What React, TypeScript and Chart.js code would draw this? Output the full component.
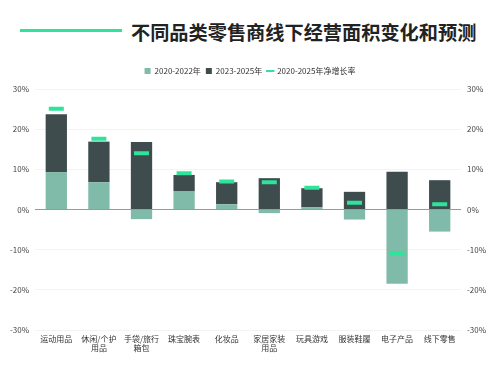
import React, { useEffect, useRef } from "react";
import { Chart, registerables } from "chart.js";

Chart.register(...registerables);

const categories: (string | string[])[] = [
  "运动用品",
  ["休闲/个护", "用品"],
  ["手袋/旅行", "箱包"],
  "珠宝腕表",
  "化妆品",
  ["家居家装", "用品"],
  "玩具游戏",
  "服装鞋履",
  "电子产品",
  "线下零售",
];
const series2020_2022 = [9.3, 6.8, -2.4, 4.6, 1.3, -0.9, 0.6, -2.5, -18.5, -5.5];
const series2023_2025 = [14.4, 10.1, 16.8, 4.0, 5.5, 7.8, 4.7, 4.4, 9.4, 7.3];
const netGrowth = [25.1, 17.6, 14.0, 9.0, 7.0, 6.8, 5.4, 1.7, -10.9, 1.3];
const seriesNames = ["2020-2022年", "2023-2025年", "2020-2025年净增长率"];
const yTicks = [-30, -20, -10, 0, 10, 20, 30];

const FONT = "'Noto Sans CJK SC', 'Noto Sans', sans-serif";
const LIGHT = "#80BAA8";
const DARK = "#3E4C4E";
const GREEN = "#2EE39B";

const legendMargin = {
  id: "legendMargin",
  beforeInit(chart: any) {
    const legend = chart.legend;
    if (!legend) return;
    const orig = legend.fit;
    legend.fit = function () {
      orig.call(this);
      this.height += 4;
    };
  },
};

export default function App() {
  const ref = useRef<HTMLCanvasElement>(null);
  useEffect(() => {
    if (!ref.current) return;
    const tickCb = (v: any) => `${v}%`;
    const chart = new Chart(ref.current, {
      type: "bar",
      plugins: [legendMargin],
      data: {
        labels: categories as any,
        datasets: [
          {
            type: "bar",
            label: seriesNames[0],
            data: series2020_2022,
            backgroundColor: LIGHT,
            stack: "a",
            order: 1,
            barPercentage: 0.5,
            categoryPercentage: 1,
          },
          {
            type: "bar",
            label: seriesNames[1],
            data: series2023_2025,
            backgroundColor: DARK,
            stack: "a",
            order: 1,
            barPercentage: 0.5,
            categoryPercentage: 1,
          },
          {
            type: "line",
            label: seriesNames[2],
            data: netGrowth,
            showLine: false,
            stack: "net",
            order: 0,
            pointStyle: "line",
            pointRadius: 7.5,
            pointHoverRadius: 7.5,
            pointBorderWidth: 4,
            pointBorderColor: GREEN,
            pointBackgroundColor: GREEN,
            borderColor: GREEN,
            backgroundColor: GREEN,
          } as any,
        ],
      },
      options: {
        animation: false,
        responsive: false,
        maintainAspectRatio: false,
        layout: { padding: { top: 62, left: 0, right: 0, bottom: 0 } },
        plugins: {
          title: { display: false },
          tooltip: { enabled: false },
          legend: {
            display: true,
            position: "top",
            labels: {
              usePointStyle: true,
              boxWidth: 6,
              boxHeight: 6,
              padding: 5,
              color: "#333",
              font: { family: FONT, size: 8 },
              sort: (a: any, b: any) => a.datasetIndex - b.datasetIndex,
              generateLabels: (c: any) => {
                const items = Chart.defaults.plugins.legend.labels.generateLabels(c);
                return items.map((it: any) => {
                  if (it.datasetIndex < 2) return { ...it, pointStyle: "rect", lineWidth: 0 };
                  return { ...it, pointStyle: "line", lineWidth: 2, strokeStyle: GREEN };
                });
              },
            },
          },
        },
        scales: {
          x: {
            stacked: true,
            grid: { display: false, drawTicks: false },
            border: { display: false },
            ticks: {
              color: "#333",
              font: { family: FONT, size: 8, lineHeight: 1.2 },
              padding: 4,
              maxRotation: 0,
              autoSkip: false,
            },
            afterFit: (s: any) => {
              s.height = 40;
            },
          },
          y: {
            stacked: true,
            position: "left",
            min: -30,
            max: 30,
            afterBuildTicks: (s: any) => {
              s.ticks = yTicks.map((v) => ({ value: v }));
            },
            grid: {
              drawTicks: false,
              color: (ctx: any) => (ctx.tick && ctx.tick.value === 0 ? "#9a9a9a" : "#f3f3f3"),
              lineWidth: 1,
            },
            border: { display: false },
            ticks: {
              color: "#444",
              font: { family: FONT, size: 8 },
              padding: 6,
              callback: tickCb,
            },
            afterFit: (s: any) => {
              s.width = 35;
            },
          },
          y2: {
            position: "right",
            min: -30,
            max: 30,
            afterBuildTicks: (s: any) => {
              s.ticks = yTicks.map((v) => ({ value: v }));
            },
            grid: { display: false, drawTicks: false },
            border: { display: false },
            ticks: {
              color: "#444",
              font: { family: FONT, size: 8 },
              padding: 6,
              callback: tickCb,
            },
            afterFit: (s: any) => {
              s.width = 39;
            },
          },
        },
      },
    });
    return () => chart.destroy();
  }, []);

  return (
    <div
      style={{
        position: "absolute",
        left: 0,
        top: 0,
        width: 500,
        height: 370,
        background: "#fff",
        fontFamily: FONT,
      }}
    >
      <div
        style={{
          position: "absolute",
          left: 20,
          top: 29,
          width: 102,
          height: 3,
          background: GREEN,
        }}
      />
      <div
        style={{
          position: "absolute",
          left: 131,
          top: 18,
          fontSize: 19.2,
          fontWeight: 700,
          lineHeight: "28px",
          color: "#222",
          whiteSpace: "nowrap",
        }}
      >
        不同品类零售商线下经营面积变化和预测
      </div>
      <canvas
        ref={ref}
        width={500}
        height={370}
        style={{ position: "absolute", left: 0, top: 0, width: 500, height: 370 }}
      />
    </div>
  );
}
